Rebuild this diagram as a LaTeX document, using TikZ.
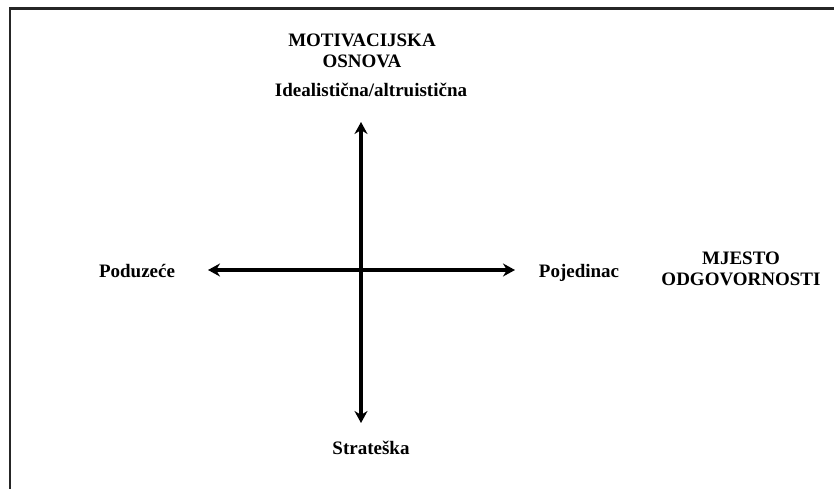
\documentclass[tikz,border=0pt]{standalone}
\usepackage{fontspec}
\setmainfont{Liberation Serif}
\usetikzlibrary{arrows.meta}
\begin{document}
\begin{tikzpicture}[x=1pt,y=-1pt,
  lbl/.style={font=\bfseries\fontsize{19}{21}\selectfont, inner sep=0pt, align=center},
  axis/.style={line width=3.2pt, {Stealth[length=12pt,width=13pt]}-{Stealth[length=12pt,width=13pt]}},
  frame/.style={line width=2.2pt, draw=black!85}]
\useasboundingbox (0,0) rectangle (834,489);
\coordinate (fa) at (10,489);
\coordinate (fb) at (10,8.5);
\coordinate (fc) at (834,8.5);
\draw[frame] (fa) -- (fb) -- (fc);
\coordinate (top) at (361,122);
\coordinate (bot) at (361,423);
\coordinate (lft) at (208,270);
\coordinate (rgt) at (515,270);
\draw[axis] (top) -- (bot);
\draw[axis] (lft) -- (rgt);
\node[lbl] (mot) at (362,51) {MOTIVACIJSKA\\OSNOVA};
\node[lbl] (ide) at (371,90) {Idealistična/altruistična};
\node[lbl] (str) at (371,448) {Strateška};
\node[lbl, anchor=base] (pod) at (137,277) {Poduzeće};
\node[lbl, anchor=base] (poj) at (579,277) {Pojedinac};
\node[lbl] (mje) at (741,269) {MJESTO\\ODGOVORNOSTI};
\end{tikzpicture}
\end{document}
